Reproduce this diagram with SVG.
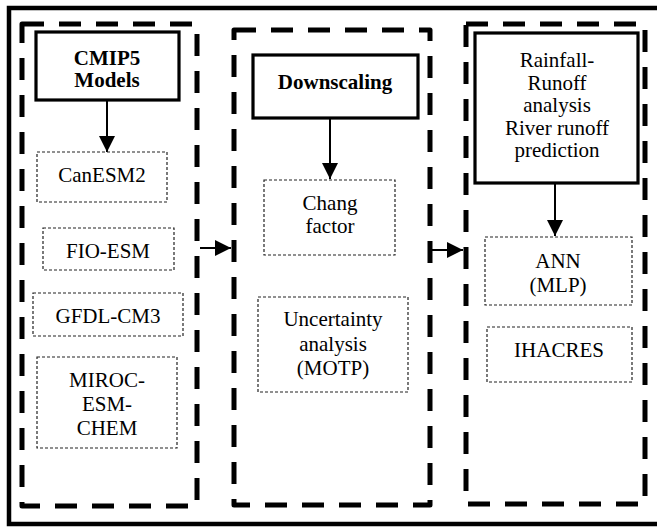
<svg xmlns="http://www.w3.org/2000/svg" width="657" height="528" viewBox="0 0 657 528">
<style>
text{font-size:21px;fill:#000;text-anchor:middle}
.b{font-weight:bold}
.frame{fill:none;stroke:#000;stroke-width:4.5}
.cont{fill:none;stroke:#000;stroke-width:5;stroke-dasharray:22 15;stroke-linejoin:round}
.solid{fill:#fff;stroke:#000;stroke-width:3.2}
.dot{fill:#fff;stroke:#222;stroke-width:1.2;stroke-dasharray:3 2}
.conn{stroke:#000;stroke-width:2;fill:none}
</style>
<defs>
<marker id="ah" markerUnits="userSpaceOnUse" markerWidth="17" markerHeight="16" refX="16" refY="8" orient="auto">
<path d="M0,0 L16,8 L0,16 z" fill="#000"/>
</marker>
</defs>
<rect width="657" height="528" fill="#fff"/>
<rect class="frame" x="9" y="8" width="660" height="516"/>
<g id="containers">
<rect class="cont" x="22" y="24" width="175" height="482"/>
<rect class="cont" x="234" y="30" width="196" height="475"/>
<rect class="cont" x="466" y="24" width="179" height="480"/>
</g>
<g id="connectors">
<line class="conn" x1="107" y1="100" x2="107" y2="152" marker-end="url(#ah)"/>
<line class="conn" x1="330" y1="118" x2="330" y2="179" marker-end="url(#ah)"/>
<line class="conn" x1="555" y1="183" x2="555" y2="236" marker-end="url(#ah)"/>
<line class="conn" x1="200" y1="248" x2="231" y2="248" marker-end="url(#ah)"/>
<line class="conn" x1="429" y1="250" x2="463" y2="250" marker-end="url(#ah)"/>
</g>
<g font-family="Liberation Serif, Times New Roman, DejaVu Serif, serif">
<g id="cmip5">
<rect class="solid" x="36" y="32" width="143" height="68"/>
<text class="b" x="107" y="65">CMIP5</text>
<text class="b" x="107" y="87">Models</text>
</g>
<g id="canesm2">
<rect class="dot" x="37" y="152" width="130" height="50"/>
<text x="102" y="182">CanESM2</text>
</g>
<g id="fioesm">
<rect class="dot" x="43" y="228" width="131" height="42"/>
<text x="108" y="258">FIO-ESM</text>
</g>
<g id="gfdl">
<rect class="dot" x="33" y="293" width="150" height="43"/>
<text x="108" y="323">GFDL-CM3</text>
</g>
<g id="miroc">
<rect class="dot" x="37" y="357" width="140" height="91"/>
<text x="107" y="387">MIROC-</text>
<text x="107" y="411">ESM-</text>
<text x="107" y="435">CHEM</text>
</g>
<g id="downscaling">
<rect class="solid" x="253" y="55" width="165" height="63"/>
<text class="b" x="335" y="89">Downscaling</text>
</g>
<g id="chang">
<rect class="dot" x="264" y="180" width="131" height="75"/>
<text x="330" y="210">Chang</text>
<text x="330" y="233">factor</text>
</g>
<g id="uncertainty">
<rect class="dot" x="258" y="297" width="150" height="95"/>
<text x="333" y="326">Uncertainty</text>
<text x="333" y="351">analysis</text>
<text x="333" y="375">(MOTP)</text>
</g>
<g id="rainfall">
<rect class="solid" x="475" y="33" width="163" height="150"/>
<text x="557" y="67">Rainfall-</text>
<text x="557" y="90">Runoff</text>
<text x="557" y="112">analysis</text>
<text x="557" y="135">River runoff</text>
<text x="557" y="157">prediction</text>
</g>
<g id="ann">
<rect class="dot" x="485" y="237" width="147" height="68"/>
<text x="558" y="268">ANN</text>
<text x="558" y="292">(MLP)</text>
</g>
<g id="ihacres">
<rect class="dot" x="487" y="327" width="145" height="55"/>
<text x="559" y="357">IHACRES</text>
</g>
</g>
</svg>
